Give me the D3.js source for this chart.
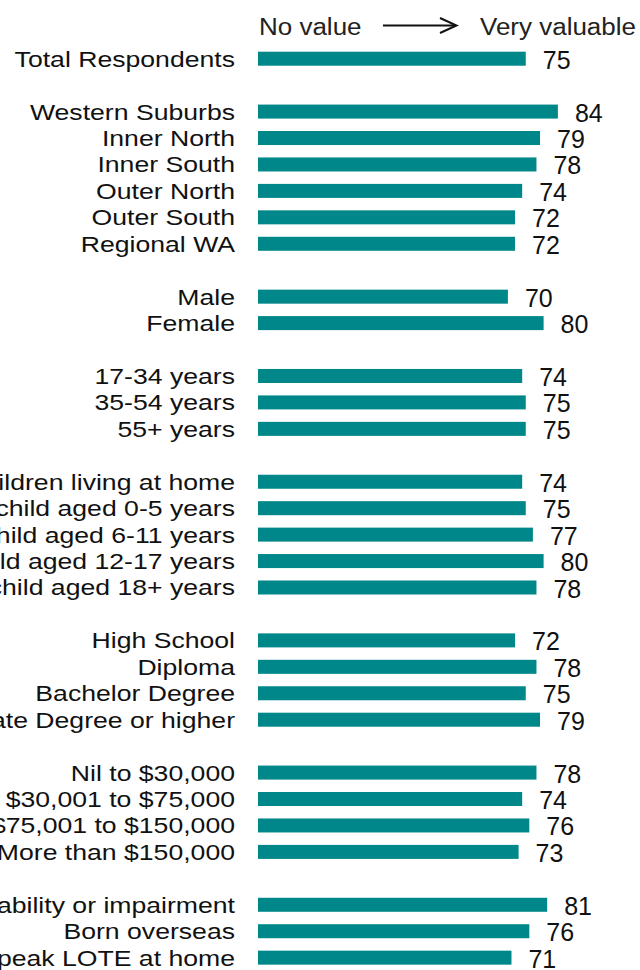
<!DOCTYPE html>
<html>
<head>
<meta charset="utf-8">
<script src="https://cdn.jsdelivr.net/npm/d3@7"></script>
<style>
  html, body { margin: 0; padding: 0; background: #fff; }
  svg { display: block; font-family: "Liberation Sans", Arial, sans-serif; }
</style>
</head>
<body>
<div id="chart"></div>
<script>
// groups of rows, a blank row is put between each group
const totalLabels = ["Total Respondents"];
const totalValues = [75];
const regionLabels = ["Western Suburbs", "Inner North", "Inner South", "Outer North", "Outer South", "Regional WA"];
const regionValues = [84, 79, 78, 74, 72, 72];
const genderLabels = ["Male", "Female"];
const genderValues = [70, 80];
const ageLabels = ["17-34 years", "35-54 years", "55+ years"];
const ageValues = [74, 75, 75];
const childLabels = ["No children living at home", "Youngest child aged 0-5 years", "Youngest child aged 6-11 years",
  "Youngest child aged 12-17 years", "Youngest child aged 18+ years"];
const childValues = [74, 75, 77, 80, 78];
const eduLabels = ["High School", "Diploma", "Bachelor Degree", "Postgraduate Degree or higher"];
const eduValues = [72, 78, 75, 79];
const incomeLabels = ["Nil to $30,000", "$30,001 to $75,000", "$75,001 to $150,000", "More than $150,000"];
const incomeValues = [78, 74, 76, 73];
const otherLabels = ["Has a disability or impairment", "Born overseas", "Speak LOTE at home"];
const otherValues = [81, 76, 71];

const scaleStart = "No value", scaleEnd = "Very valuable";

(() => {
  const width = 640, height = 970;
  const barLeft = 258, barRight = 615;
  const labelRight = 235;

  const groups = [
    [totalLabels, totalValues], [regionLabels, regionValues], [genderLabels, genderValues],
    [ageLabels, ageValues], [childLabels, childValues], [eduLabels, eduValues],
    [incomeLabels, incomeValues], [otherLabels, otherValues]
  ];

  // flatten to rows, with a spacer key between groups
  const rows = [];
  const slots = [];
  groups.forEach(([labs, vals], g) => {
    if (g > 0) slots.push(`gap-${g}`);
    labs.forEach((l, i) => {
      rows.push({ label: l, value: vals[i] });
      slots.push(l);
    });
  });

  const svg = d3.select("#chart")
    .append("svg")
    .attr("width", width)
    .attr("height", height);

  const pitch = 26.44;
  const y = d3.scaleBand()
    .domain(slots)
    .range([58.7 - pitch / 2, 58.7 - pitch / 2 + pitch * slots.length])
    .paddingInner(0.47)
    .paddingOuter(0.235);

  const x = d3.scaleLinear()
    .domain([0, 100])
    .range([barLeft, barRight]);

  const mid = d => y(d.label) + y.bandwidth() / 2;

  svg.selectAll(".bar")
    .data(rows)
    .join("rect")
    .attr("class", "bar")
    .attr("x", x(0))
    .attr("y", d => y(d.label))
    .attr("width", d => x(d.value) - x(0))
    .attr("height", y.bandwidth())
    .attr("fill", "#00878a");

  // labels are drawn a bit wide, like the original
  svg.selectAll(".label")
    .data(rows)
    .join("text")
    .attr("class", "label")
    .attr("transform", d => `translate(${labelRight},${mid(d)}) scale(1.21,1)`)
    .attr("dy", "0.36em")
    .attr("text-anchor", "end")
    .attr("font-size", "22px")
    .attr("fill", "#111")
    .text(d => d.label);

  svg.selectAll(".value")
    .data(rows)
    .join("text")
    .attr("class", "value")
    .attr("x", d => x(d.value) + 17)
    .attr("y", mid)
    .attr("dy", "0.4em")
    .attr("font-size", "25px")
    .attr("fill", "#111")
    .text(d => d.value);

  // header: No value --> Very valuable
  const head = svg.append("g");
  head.append("text")
    .attr("transform", "translate(259,35) scale(1.13,1)")
    .attr("font-size", "23px")
    .attr("fill", "#222")
    .text(scaleStart);
  head.append("text")
    .attr("transform", "translate(636,35) scale(1.13,1)")
    .attr("text-anchor", "end")
    .attr("font-size", "23px")
    .attr("fill", "#222")
    .text(scaleEnd);
  head.append("line")
    .attr("x1", 383).attr("y1", 25.5)
    .attr("x2", 456).attr("y2", 25.5)
    .attr("stroke", "#111")
    .attr("stroke-width", 2);
  head.append("path")
    .attr("d", "M440,18 L456.5,25.5 L440,33")
    .attr("fill", "none")
    .attr("stroke", "#111")
    .attr("stroke-width", 2);
})();
</script>
</body>
</html>
